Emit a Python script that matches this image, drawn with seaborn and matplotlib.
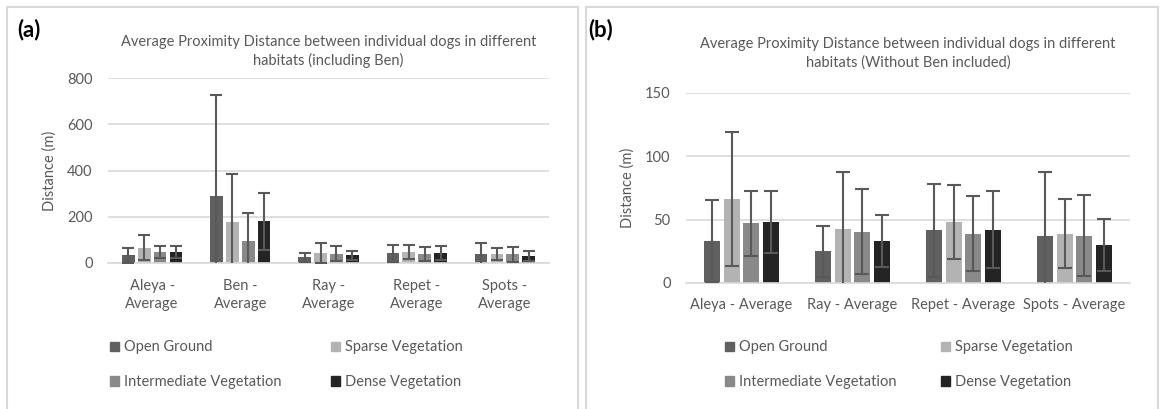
import matplotlib
matplotlib.use("Agg")
import matplotlib.pyplot as plt
from matplotlib.patches import Rectangle
import seaborn as sns
import pandas as pd

# ---------------- data ----------------
dogs = ["Aleya", "Ben", "Ray", "Repet", "Spots"]
habitats = ["Open Ground", "Sparse Vegetation", "Intermediate Vegetation", "Dense Vegetation"]

open_ground = [33, 289, 25, 41.5, 37.5]
sparse_veg = [66.5, 178, 43, 48, 39]
intermediate_veg = [47, 97, 40.5, 39, 37.5]
dense_veg = [48, 180, 33, 42, 30]

open_ground_err = [32.5, 437, 20, 36.5, 50]
sparse_veg_err = [53, 209, 44.5, 29, 27.5]
intermediate_veg_err = [26, 118, 33.5, 29.8, 32]
dense_veg_err = [24.5, 124, 20.5, 30.3, 20.6]

title_a = "Average Proximity Distance between individual dogs in different\nhabitats (including Ben)"
title_b = "Average Proximity Distance between individual dogs in different\nhabitats (Without Ben included)"
yticks_a = [0, 200, 400, 600, 800]
yticks_b = [0, 50, 100, 150]

colors = ["#606060", "#b3b3b3", "#898989", "#242424"]
TXT = "#595959"
GRID = "#d9d9d9"
ERR = "#595959"
FS = 10.5

sns.set_theme(style="white")
plt.rcParams["font.family"] = ["Lato", "DejaVu Sans"]

means = [open_ground, sparse_veg, intermediate_veg, dense_veg]
errs = [open_ground_err, sparse_veg_err, intermediate_veg_err, dense_veg_err]

def build(dog_list, sep):
    rows = []
    for h, m, e in zip(habitats, means, errs):
        for d in dog_list:
            i = dogs.index(d)
            rows.append({"dog": d + sep + "Average", "habitat": h, "value": m[i], "err": e[i]})
    return pd.DataFrame(rows)

df_a = build(dogs, " -\n")
df_b = build([d for d in dogs if d != "Ben"], " - ")

W, H = 1165, 409
fig = plt.figure(figsize=(W / 100, H / 100), dpi=100)

def px_axes(x0, x1, ytop, ybot):
    return fig.add_axes([x0 / W, 1 - ybot / H, (x1 - x0) / W, (ybot - ytop) / H])

ax_a = px_axes(108, 549, 78, 263)
ax_b = px_axes(686, 1130, 93, 283)

def draw(ax, df, yticks, title, tpad, capsize, xpad):
    sns.barplot(data=df, x="dog", y="value", hue="habitat", hue_order=habitats,
                palette=colors, width=0.72, gap=0.2, errorbar=None, saturation=1,
                ax=ax, legend=False, linewidth=0)
    for cont, h in zip(ax.containers, habitats):
        sub = df[df["habitat"] == h]
        xs = [p.get_x() + p.get_width() / 2 for p in cont]
        ys = [p.get_height() for p in cont]
        ax.errorbar(xs, ys, yerr=sub["err"].values, fmt="none", ecolor=ERR,
                    elinewidth=1.5, capsize=capsize, capthick=1.5, zorder=5)
    ax.set_ylim(yticks[0], yticks[-1])
    ax.set_yticks(yticks)
    ax.set_xlim(-0.5, len(df["dog"].unique()) - 0.5)
    ax.yaxis.grid(True, color=GRID, linewidth=1.2)
    ax.set_axisbelow(True)
    for s in ["left", "right", "top"]:
        ax.spines[s].set_visible(False)
    ax.spines["bottom"].set_color(GRID)
    ax.spines["bottom"].set_linewidth(1.2)
    ax.tick_params(axis="both", length=0, colors=TXT, labelsize=FS)
    ax.tick_params(axis="y", pad=11)
    ax.tick_params(axis="x", pad=xpad)
    plt.setp(ax.get_xticklabels(), linespacing=1.35)
    ax.set_xlabel("")
    ax.set_ylabel("Distance (m)", color=TXT, fontsize=FS)
    ax.set_title(title, color=TXT, fontsize=FS, linespacing=1.35, pad=tpad)
    handles = [Rectangle((0, 0), 1, 1, color=c) for c in colors]
    return handles

h = draw(ax_a, df_a, yticks_a, title_a, 9.5, 4, 11.5)
draw(ax_b, df_b, yticks_b, title_b, 19, 5, 11)
ax_a.yaxis.set_label_coords((57 - 108) / 441, 0.5)
ax_b.yaxis.set_label_coords((635 - 686) / 444, 0.5)

# legend in row order: Open, Sparse / Intermediate, Dense (column-major fill)
order = [0, 2, 1, 3]
for ax, x0, cs in [(ax_a, 110, 3.4), (ax_b, 725, 3.05)]:
    ax.legend([h[i] for i in order], [habitats[i] for i in order], ncol=2, loc="upper left",
              bbox_to_anchor=(x0 / W, 1 - 340.5 / H), bbox_transform=fig.transFigure,
              frameon=False, fontsize=FS, labelcolor=TXT, handlelength=0.6,
              handleheight=0.6, handletextpad=0.35, columnspacing=cs,
              labelspacing=1.42, borderpad=0, borderaxespad=0)

# panel borders
for x0, x1 in [(7, 578), (586, 1158)]:
    fig.patches.append(Rectangle((x0 / W, -0.05), (x1 - x0) / W, 1.05 - 7 / H,
                                 transform=fig.transFigure, fill=False,
                                 edgecolor=GRID, linewidth=1.5))

fig.text(17 / W, 1 - 30 / H, "(a)", fontsize=16, fontweight="bold", va="center", ha="left", color="black")
fig.text(588 / W, 1 - 30 / H, "(b)", fontsize=16, fontweight="bold", va="center", ha="left", color="black")

fig.savefig("out.png", dpi=100, facecolor="white")
